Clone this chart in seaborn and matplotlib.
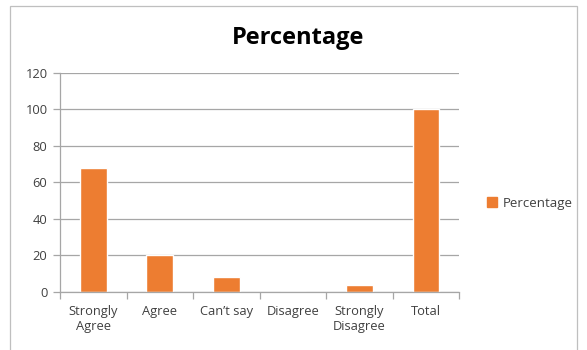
import pandas as pd
import seaborn as sns
import matplotlib.pyplot as plt
from matplotlib.patches import Rectangle, Patch

# datos
categorias = ["Strongly\nAgree", "Agree", "Can\u2019t say", "Disagree", "Strongly\nDisagree", "Total"]
porcentajes = [68, 20, 8, 0, 4, 100]

df = pd.DataFrame({"categoria": categorias, "Percentage": porcentajes})

sns.set_style("white")
plt.rcParams["font.family"] = ["Open Sans", "DejaVu Sans"]

fig = plt.figure(figsize=(5.87, 3.5), dpi=100)
ax = fig.add_axes([0.1022, 0.1657, 0.680, 0.626])

sns.barplot(data=df, x="categoria", y="Percentage", color="#ED7D31", width=0.4,
            saturation=1, ax=ax)

ax.set_ylim(0, 120)
ax.set_xlim(-0.5, 5.5)
ax.set_yticks(range(0, 121, 20))
ax.yaxis.grid(True, color="#A6A6A6", linewidth=0.9)
ax.set_axisbelow(True)
ax.set_xlabel("")
ax.set_ylabel("")

for s in ["top", "right"]:
    ax.spines[s].set_visible(False)
for s in ["left", "bottom"]:
    ax.spines[s].set_color("#A6A6A6")
    ax.spines[s].set_linewidth(0.9)

# marcas entre categorias
ax.set_xticks([i - 0.5 for i in range(7)], minor=True)
ax.tick_params(axis="x", which="minor", length=5, color="#A6A6A6", width=0.9, direction="out")
ax.tick_params(axis="x", which="major", length=0, labelsize=9.3, labelcolor="#404040", pad=9)
ax.tick_params(axis="y", length=5, color="#A6A6A6", width=0.9, direction="out",
               labelsize=9.3, labelcolor="#404040", pad=4)
ax.tick_params(axis="y", left=True)
ax.tick_params(axis="x", bottom=True, which="minor")

fig.suptitle("Percentage", fontsize=17, fontweight="bold", color="black", x=0.508, y=0.925)

fig.legend(handles=[Patch(color="#ED7D31", label="Percentage")],
           loc="center left", bbox_to_anchor=(0.81, 0.42), frameon=False,
           fontsize=9.5, handlelength=0.7, handleheight=0.7, handletextpad=0.5,
           labelcolor="#404040")

# borde del grafico
fig.patches.append(Rectangle((10 / 587, -0.05), 567 / 587, 1.05 - 6 / 350,
                             transform=fig.transFigure, fill=False,
                             edgecolor="#BFBFBF", linewidth=0.9))

fig.savefig("out.png", dpi=100)
